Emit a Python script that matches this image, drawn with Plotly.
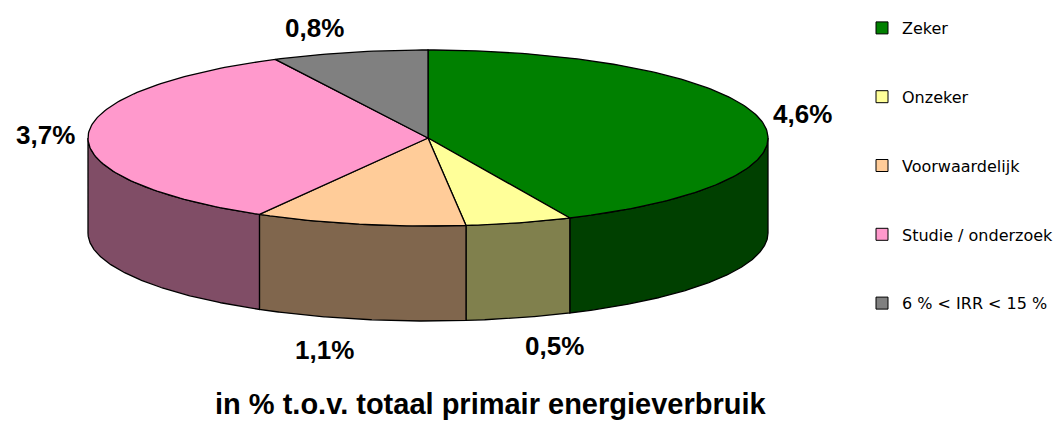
import math
import plotly.graph_objects as go

# ---- data ----
categories = ["Zeker", "Onzeker", "Voorwaardelijk", "Studie / onderzoek", "6 % < IRR < 15 %"]
values = [4.6, 0.54, 1.07, 3.66, 0.79]          # % of total primary energy use
top_colors = ["#008000", "#FFFF99", "#FFCC99", "#FF99CC", "#808080"]
side_colors = ["#004000", "#80804D", "#80664D", "#804D66", "#404040"]
title_text = "in % t.o.v. totaal primair energieverbruik"

# ---- geometry (layout, in screen-pixel-like axis units) ----
W, H = 1062, 421
OFF = 8                      # page body margin of the html page
cx, cy, rx, ry, depth = 428, 138, 340, 88, 95
N = 200


def pt(t_deg, dy=0.0):
    t = math.radians(t_deg)
    return cx + rx * math.cos(t), cy - ry * math.sin(t) + dy


total = sum(values)
angles = []
a = 90.0
for v in values:
    span = v / total * 360.0
    angles.append((a, a - span))
    a -= span

fig = go.Figure()

# sides (front half only, angles in [-180, 0])
for (a1, a2), col in zip(angles, side_colors):
    lo, hi = max(a2, -180.0), min(a1, 0.0)
    if hi <= lo:
        continue
    ts = [lo + (hi - lo) * i / N for i in range(N + 1)]
    xs, ys = [], []
    for t in ts:
        x, y = pt(t)
        xs.append(x); ys.append(y)
    for t in reversed(ts):
        x, y = pt(t, depth)
        xs.append(x); ys.append(y)
    xs.append(xs[0]); ys.append(ys[0])
    fig.add_trace(go.Scatter(x=xs, y=ys, mode="lines", fill="toself", fillcolor=col,
                             line=dict(color="black", width=1.3), hoverinfo="skip",
                             showlegend=False))

# top faces
for (a1, a2), col in zip(angles, top_colors):
    n = max(2, int(abs(a1 - a2)))
    xs, ys = [cx], [cy]
    for i in range(n + 1):
        x, y = pt(a1 + (a2 - a1) * i / n)
        xs.append(x); ys.append(y)
    xs.append(cx); ys.append(cy)
    fig.add_trace(go.Scatter(x=xs, y=ys, mode="lines", fill="toself", fillcolor=col,
                             line=dict(color="black", width=1.3), hoverinfo="skip",
                             showlegend=False))

# data labels
for (a1, a2), v in zip(angles, values):
    m = math.radians((a1 + a2) / 2)
    s, c = math.sin(m), math.cos(m)
    lx = cx + (rx + 10) * c + 33 * (1 if c >= 0 else -1)
    ly = cy - (ry + 25) * s + (depth + 8) * max(0.0, -s)
    fig.add_annotation(x=lx, y=ly, xref="x", yref="y", showarrow=False,
                       text=(f"{v:.1f}%").replace(".", ","),
                       font=dict(family="Liberation Sans, Arial", size=26,
                                 weight="bold", color="black"))

# legend entries
for i, (name, col) in enumerate(zip(categories, top_colors)):
    fig.add_trace(go.Scatter(x=[None], y=[None], mode="markers", name=name,
                             legendgroup=f"g{i}",
                             marker=dict(symbol="square", size=12, color=col,
                                         line=dict(color="black", width=1))))

fig.add_annotation(x=490, y=404, xref="x", yref="y", showarrow=False,
                   text=title_text,
                   font=dict(family="Liberation Sans, Arial", size=29,
                             weight="bold", color="black"))

fig.update_layout(
    width=W, height=H,
    margin=dict(l=0, r=0, t=0, b=0),
    paper_bgcolor="white", plot_bgcolor="white",
    xaxis=dict(range=[OFF, W + OFF], visible=False, fixedrange=True),
    yaxis=dict(range=[H + OFF, OFF], visible=False, fixedrange=True),
    showlegend=True,
    legend=dict(x=(862 - OFF) / W, y=1.0 - 3 / H, xanchor="left", yanchor="top",
                font=dict(family="DejaVu Sans, Verdana", size=16, color="black"),
                tracegroupgap=45, bgcolor="rgba(0,0,0,0)", itemwidth=30),
)

fig.write_html("out.html")
